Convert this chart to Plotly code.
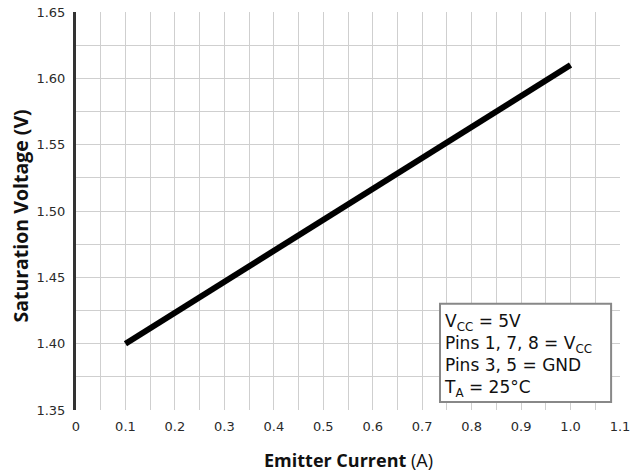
import plotly.graph_objects as go

emitter_current = [0.1, 1.0]
saturation_voltage = [1.40, 1.61]

x_tick_vals = [0, 0.1, 0.2, 0.3, 0.4, 0.5, 0.6, 0.7, 0.8, 0.9, 1.0, 1.1]
x_tick_text = ["0", "0.1", "0.2", "0.3", "0.4", "0.5", "0.6", "0.7", "0.8", "0.9", "1.0", "1.1"]
y_tick_vals = [1.35, 1.40, 1.45, 1.50, 1.55, 1.60, 1.65]
y_tick_text = ["1.35", "1.40", "1.45", "1.50", "1.55", "1.60", "1.65"]

conditions = ["V<sub>CC</sub> = 5V", "Pins 1, 7, 8 = V<sub>CC</sub>", "Pins 3, 5 = GND", "T<sub>A</sub> = 25°C"]

x_title = "<b>Emitter Current</b> (A)"
y_title = "<b>Saturation Voltage (V)</b>"

FONT = "DejaVu Sans"
TFONT = "Open Sans"
GRID = "#cfcfcf"

fig = go.Figure()
fig.add_trace(go.Scatter(
    x=emitter_current, y=saturation_voltage, mode="lines",
    line=dict(color="black", width=6), showlegend=False, hoverinfo="skip",
))

fig.update_layout(
    width=632, height=470,
    margin=dict(l=76, r=12, t=12, b=60, autoexpand=False),
    paper_bgcolor="white", plot_bgcolor="white",
    font=dict(family=FONT, color="#333333", size=13),
    xaxis=dict(
        range=[0, 1.1], tickvals=x_tick_vals, ticktext=x_tick_text,
        showgrid=True, gridcolor=GRID, gridwidth=1,
        minor=dict(dtick=0.05, tick0=0, showgrid=True, gridcolor=GRID, gridwidth=1),
        zeroline=False, showline=False, ticks="", ticklen=0,
        ticklabelstandoff=7, automargin=False,
        tickfont=dict(family=FONT, size=13, color="#2a2a2a"),
    ),
    yaxis=dict(
        range=[1.35, 1.65], tickvals=y_tick_vals, ticktext=y_tick_text,
        showgrid=True, gridcolor=GRID, gridwidth=1,
        minor=dict(dtick=0.025, tick0=1.35, showgrid=True, gridcolor=GRID, gridwidth=1),
        zeroline=False, showline=True, linecolor="#333333", linewidth=3,
        ticks="", ticklen=0, ticklabelstandoff=5, automargin=False,
        tickfont=dict(family=FONT, size=13, color="#2a2a2a"),
    ),
)

# axis titles
fig.add_annotation(xref="paper", yref="paper", x=0.5, y=-0.1256, xanchor="center", yanchor="middle",
                   text=x_title, showarrow=False, font=dict(family=TFONT, size=18, color="#111111"))
fig.add_annotation(xref="paper", yref="paper", x=-0.1011, y=0.486, xanchor="center", yanchor="middle",
                   text=y_title, textangle=-90, showarrow=False, font=dict(family=TFONT, size=19.5, color="#111111"))

# conditions box
fig.add_shape(type="rect", xref="x", yref="y", x0=0.736, x1=1.082, y0=1.356, y1=1.430,
              line=dict(color="#888888", width=2), fillcolor="white", layer="above")
fig.add_annotation(
    xref="x", yref="y", x=0.740, y=1.4265, xanchor="left", yanchor="top",
    text="<br>".join(conditions), align="left", showarrow=False,
    font=dict(family=FONT, size=17, color="#111111"),
)

fig.write_html(
    "out.html",
    config={"displayModeBar": False},
    post_script="document.body.style.margin='0';document.body.style.padding='0';document.body.style.overflow='hidden';",
)
